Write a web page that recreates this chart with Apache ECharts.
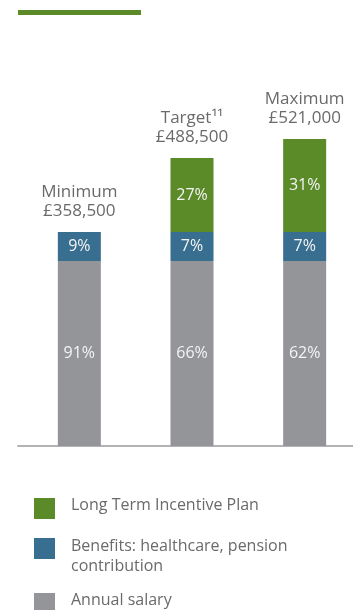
<!DOCTYPE html>
<html><head><meta charset="utf-8">
<script src="https://cdn.jsdelivr.net/npm/echarts@6/dist/echarts.min.js"></script>
<style>html,body{margin:0;padding:0;background:#fff;overflow:hidden}#c{width:364px;height:610px}</style>
</head><body><div id="c"></div>
<script>
// Data (segment heights in chart units, as drawn)
const categories = ['Minimum', 'Target¹¹', 'Maximum'];
const totals = ['£358,500', '£488,500', '£521,000'];
const salary = [185, 185, 185];
const benefits = [29, 29, 29];
const ltip = [0, 74, 93];
const salaryPct = ['91%', '66%', '62%'];
const benefitsPct = ['9%', '7%', '7%'];
const ltipPct = ['', '27%', '31%'];
const seriesNames = ['Long Term Incentive Plan', 'Benefits: healthcare, pension\ncontribution', 'Annual salary'];

const GREEN = '#5b8a28', BLUE = '#386e8f', GRAY = '#939598';
const FONT = 'Open Sans';
const TXT = '#6a6a6a';

const chart = echarts.init(document.getElementById('c'), null, {renderer: 'canvas'});
const inLabel = (arr) => ({
  show: true, position: 'inside', color: '#f4f4f4', fontFamily: FONT, fontSize: 16,
  formatter: p => arr[p.dataIndex]
});
const legendRich = {
  a: {fontFamily: FONT, fontSize: 16, color: TXT, lineHeight: 20, padding: [0, 0, 0, 11]},
  s: {fontSize: 1, lineHeight: 6},
  t: {fontSize: 1, lineHeight: 15}
};
const legendBase = {
  left: 29, orient: 'vertical', itemWidth: 21, itemHeight: 21, icon: 'rect',
  selectedMode: false,
  textStyle: {fontFamily: FONT, fontSize: 16, color: TXT, rich: legendRich}
};
chart.setOption({
  animation: false,
  grid: [
    {left: 23, width: 338, top: 126, bottom: 164},
    {left: 18, width: 335, top: 126, bottom: 164}
  ],
  xAxis: [
    {type: 'category', data: categories, gridIndex: 0, axisLine: {show: false}, axisTick: {show: false}, axisLabel: {show: false}},
    {type: 'category', data: [''], gridIndex: 1, axisLine: {show: true, lineStyle: {color: '#b3b3b3', width: 2}}, axisTick: {show: false}, axisLabel: {show: false}}
  ],
  yAxis: [
    {type: 'value', min: 0, max: 320, gridIndex: 0, show: false},
    {type: 'value', min: 0, max: 320, gridIndex: 1, show: false}
  ],
  legend: [
    Object.assign({}, legendBase, {top: 492.5, data: [{name: seriesNames[0]}],
      formatter: n => '{a|' + n + '}\n{s| }'}),
    Object.assign({}, legendBase, {top: 523, data: [{name: seriesNames[1]}],
      formatter: n => '{t| }\n' + n.split('\n').map(l => '{a|' + l + '}').join('\n')}),
    Object.assign({}, legendBase, {top: 587.5, data: [{name: seriesNames[2]}],
      formatter: n => '{a|' + n + '}\n{s| }'})
  ],
  graphic: [
    {type: 'rect', left: 18, top: 10, shape: {width: 123, height: 5}, style: {fill: GREEN}}
  ],
  series: [
    {name: seriesNames[2], type: 'bar', stack: 's', barWidth: 43, data: salary, itemStyle: {color: GRAY}, label: inLabel(salaryPct)},
    {name: seriesNames[1], type: 'bar', stack: 's', barWidth: 43, data: benefits, itemStyle: {color: BLUE}, label: inLabel(benefitsPct)},
    {name: seriesNames[0], type: 'bar', stack: 's', barWidth: 43, data: ltip, itemStyle: {color: GREEN}, label: inLabel(ltipPct)},
    {name: 'titles', type: 'bar', stack: 's', barWidth: 43, data: [0, 0, 0], itemStyle: {color: 'transparent'},
     label: {show: true, position: 'top', distance: 11, fontFamily: FONT, fontSize: 17, lineHeight: 19, color: TXT, align: 'center',
       formatter: p => categories[p.dataIndex] + '\n' + totals[p.dataIndex]}}
  ]
});
</script></body></html>
